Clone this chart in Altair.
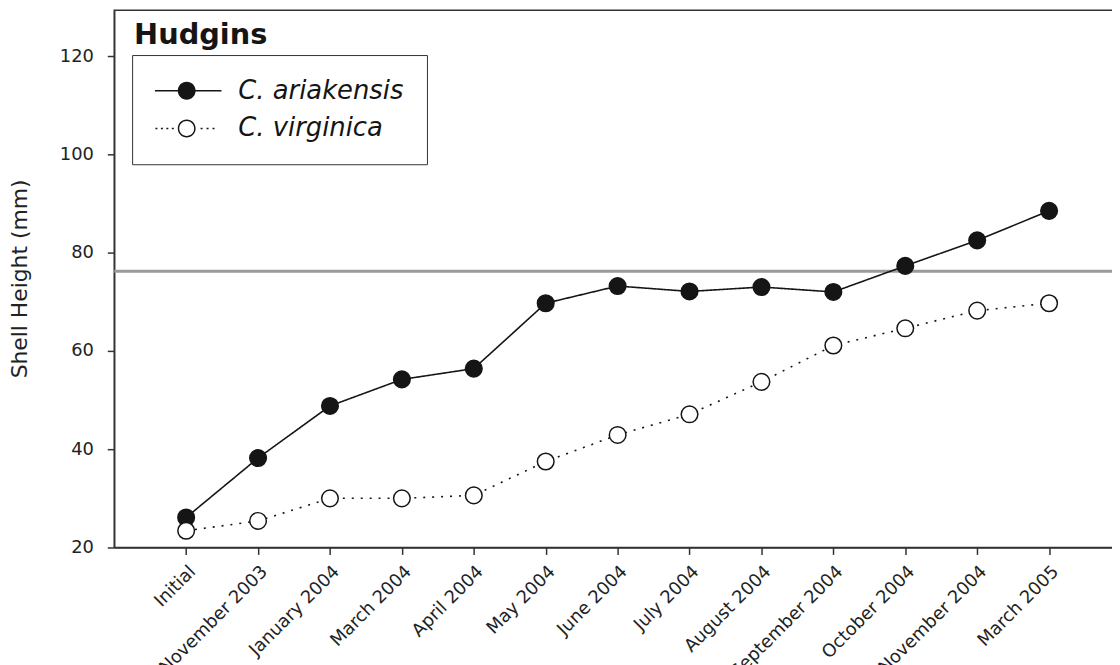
import altair as alt
import pandas as pd

# ---- data ----
months = ["Initial", "November 2003", "January 2004", "March 2004", "April 2004",
          "May 2004", "June 2004", "July 2004", "August 2004", "September 2004",
          "October 2004", "November 2004", "March 2005"]
ariakensis = [26.1, 38.2, 48.8, 54.2, 56.4, 69.7, 73.2, 72.1, 73.0, 72.0, 77.3, 82.5, 88.5]
virginica = [23.4, 25.4, 30.0, 30.0, 30.6, 37.5, 42.9, 47.1, 53.7, 61.1, 64.6, 68.2, 69.7]
series_names = ["C. ariakensis", "C. virginica"]
line_styles = ["solid", "dotted"]
y_ticks = [20, 40, 60, 80, 100, 120]
ref_level = [76.2]
site = "Hudgins"

rows = []
for i, m in enumerate(months):
    rows.append({"idx": i, "month": m, "series": series_names[0], "style": line_styles[0],
                 "value": ariakensis[i]})
    rows.append({"idx": i, "month": m, "series": series_names[1], "style": line_styles[1],
                 "value": virginica[i]})
df = pd.DataFrame(rows)
ref_df = pd.DataFrame({"level": ref_level})

label_expr = "[" + ",".join("'%s'" % m for m in months) + "][datum.value]"

FONT = "DejaVu Sans"
INK = "#151515"

x_scale = alt.Scale(domain=[-1, 12.93], nice=False, zero=False)
y_scale = alt.Scale(domain=[20, 129.3], nice=False, zero=False)

x_enc = alt.X("idx:Q", scale=x_scale, axis=alt.Axis(
    values=list(range(len(months))), labelExpr=label_expr, title=None, grid=False,
    labelAngle=315, labelAlign="right", labelBaseline="top", labelFont=FONT,
    labelFontSize=18, labelColor="#222", tickSize=7, tickColor="#333", tickWidth=1.5,
    domainColor="#333", domainWidth=1.5, labelPadding=8, labelOffset=0,
    labelOverlap=False, labelFlush=False))
y_enc = alt.Y("value:Q", scale=y_scale, axis=alt.Axis(
    values=y_ticks, title="Shell Height (mm)", grid=False, labelFont=FONT,
    labelFontSize=18, labelColor="#222", labelPadding=14, tickSize=7, tickColor="#333",
    tickWidth=1.5, domainColor="#333", domainWidth=1.5, titleFont=FONT,
    titleFontSize=22, titleFontWeight="normal", titleColor="#222", titleAngle=270,
    titleX=-95, titleY=270, titleBaseline="middle", titleAlign="center"))

# legend symbols drawn as filled outlines: a line with a circle marker
# (units = 10 px at symbolSize 400)
ring_outer = "M2.8,0A0.9,0.9,0,1,1,1.0,0A0.9,0.9,0,1,1,2.8,0Z"
ring_inner = "M2.65,0A0.75,0.75,0,1,0,1.15,0A0.75,0.75,0,1,0,2.65,0Z"
path_a = "M-1.3,-0.075H5.4V0.075H-1.3Z" + ring_outer
dot_starts = [-1.25, -0.7, -0.15, 0.4, 3.3, 3.9, 4.5]
path_v = "".join("M%.2f,-0.075h0.2v0.15h-0.2Z" % s for s in dot_starts) + ring_outer + ring_inner

legend_def = alt.Legend(
    title=None, orient="none", legendX=18, legendY=45, padding=23, rowPadding=12,
    symbolSize=400, symbolStrokeWidth=0, symbolOpacity=1,
    labelFont=FONT, labelFontSize=26, labelFontStyle="italic", labelColor=INK,
    labelOffset=58, labelLimit=400, strokeColor="#333", fillColor="white")

base = alt.Chart(df)

ref_rule = alt.Chart(ref_df).mark_rule(color="#9a9a9a", strokeWidth=3).encode(
    y=alt.Y("level:Q", scale=y_scale))

lines = base.mark_line(color=INK, strokeWidth=1.6).encode(
    x=x_enc, y=y_enc, detail="series:N",
    strokeDash=alt.StrokeDash("style:N", scale=alt.Scale(domain=line_styles,
                                                         range=[[1, 0], [2, 7]]),
                              legend=None))

points = base.mark_point(filled=True, shape="circle", size=280, stroke=INK,
                         strokeWidth=1.5, opacity=1).encode(
    x=x_enc, y=y_enc,
    color=alt.Color("style:N", scale=alt.Scale(domain=line_styles, range=[INK, "white"]),
                    legend=None))

legend_layer = base.transform_filter("datum.value < 0").mark_point(
    filled=True, opacity=1).encode(
    x=x_enc, y=y_enc,
    fill=alt.Fill("series:N", scale=alt.Scale(domain=series_names, range=[INK, INK]),
                  legend=legend_def),
    shape=alt.Shape("series:N", scale=alt.Scale(domain=series_names,
                                                range=[path_a, path_v]),
                    legend=legend_def))

chart = alt.layer(ref_rule, lines, points, legend_layer).properties(
    width=1009, height=541,
    autosize=alt.AutoSizeParams(type="none"),
    padding={"left": 107, "top": 0, "right": -4, "bottom": 116},
    title=alt.TitleParams(site, anchor="start", frame="group", font=FONT, fontSize=29,
                          fontWeight="bold", color=INK, dx=20, dy=63, offset=0,
                          baseline="alphabetic"),
    background="white",
).configure_view(stroke="#333", strokeWidth=1.5)

chart.save("out.html", embed_options={"renderer": "svg", "actions": False})
